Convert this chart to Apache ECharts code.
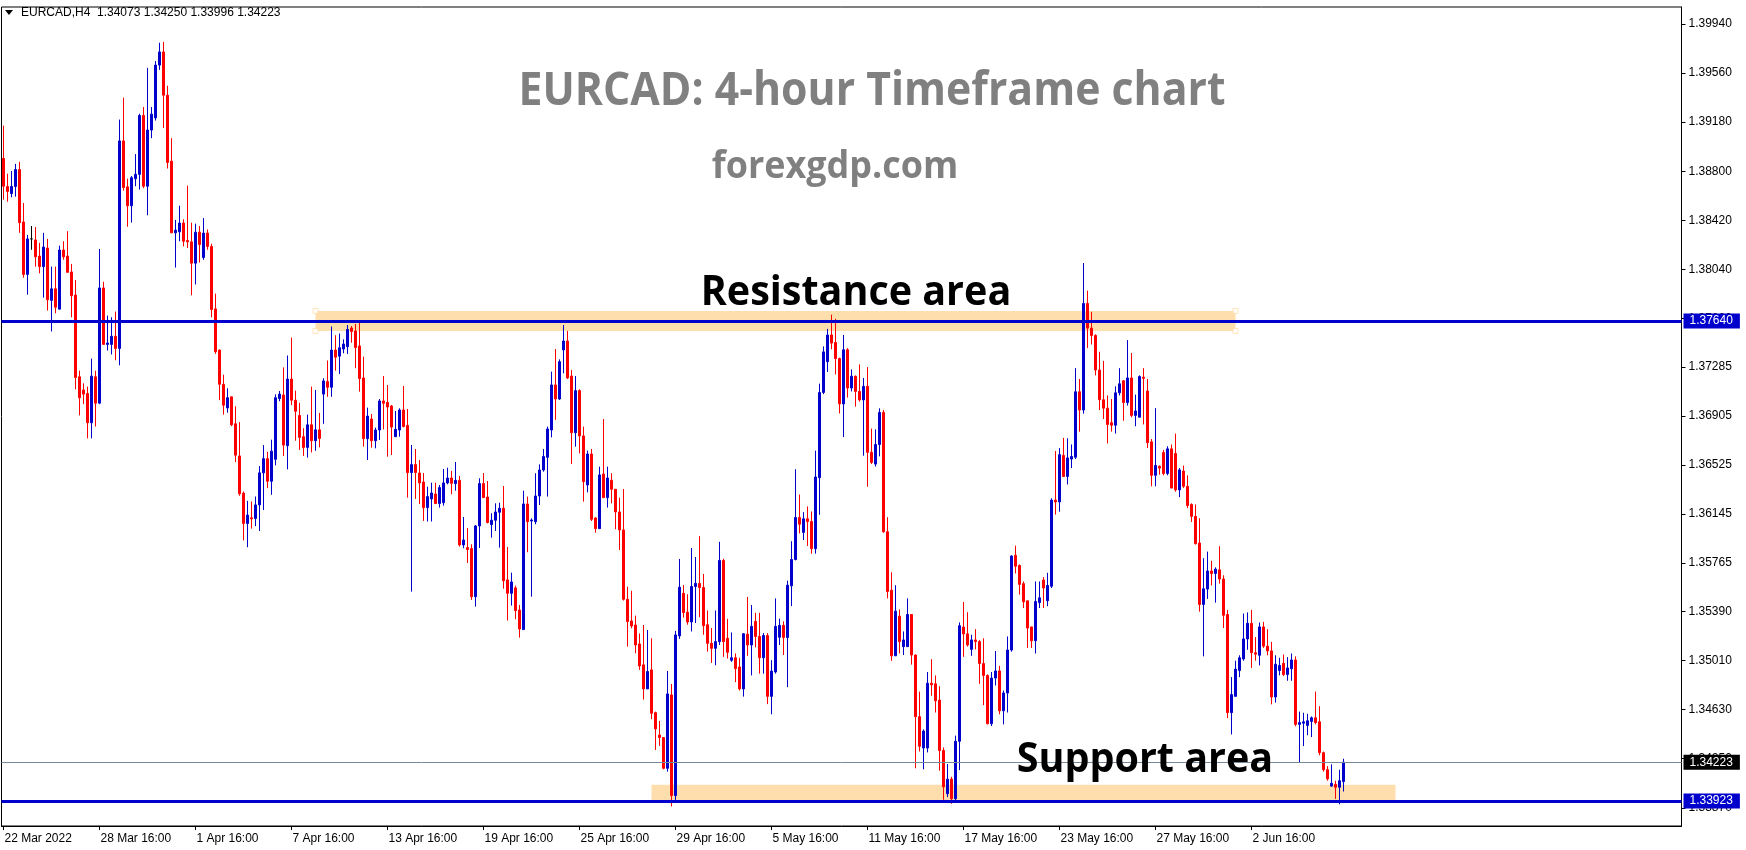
<!DOCTYPE html>
<html><head><meta charset="utf-8">
<script src="https://cdn.jsdelivr.net/npm/echarts@6/dist/echarts.min.js"></script>
<style>html,body{margin:0;padding:0;background:#fff}#c{width:1746px;height:850px}</style>
</head><body><div id="c"></div>
<script>
// [open, close, low, high] for each H4 candle
const candles = [
[1.38899,1.38684,1.38580,1.39153],[1.38682,1.38643,1.38564,1.38781],[1.38627,1.38682,1.38598,1.38802],[1.38682,1.38813,1.38603,1.38857],
[1.38813,1.38402,1.38323,1.38873],[1.38407,1.38001,1.37975,1.38554],[1.38001,1.38276,1.37844,1.38307],[1.38276,1.38276,1.38192,1.38376],
[1.38268,1.38137,1.38061,1.38368],[1.38143,1.38061,1.38009,1.38245],[1.38061,1.38213,1.37821,1.38323],[1.38205,1.37805,1.37721,1.38276],
[1.37800,1.37889,1.37559,1.38061],[1.37889,1.37747,1.37700,1.38061],[1.37732,1.38190,1.37732,1.38224],[1.38190,1.38137,1.38114,1.38258],
[1.38143,1.38017,1.38017,1.38336],[1.38020,1.37836,1.37669,1.38082],[1.37841,1.37203,1.37111,1.37957],[1.37208,1.37046,1.36909,1.37255],
[1.37106,1.37074,1.36996,1.37158],[1.37079,1.36852,1.36731,1.37132],[1.36852,1.37213,1.36731,1.37349],[1.37208,1.37004,1.36823,1.37255],
[1.37004,1.37896,1.36996,1.38198],[1.37896,1.37459,1.37459,1.37944],[1.37459,1.37470,1.37412,1.37682],[1.37459,1.37522,1.37381,1.37669],
[1.37522,1.37428,1.37336,1.37713],[1.37428,1.39035,1.37297,1.39200],[1.39035,1.38674,1.38650,1.39370],[1.38679,1.38533,1.38370,1.38742],
[1.38533,1.38750,1.38402,1.38763],[1.38742,1.38776,1.38684,1.38933],[1.38776,1.39232,1.38658,1.39245],[1.39232,1.38684,1.38669,1.39297],
[1.38684,1.39119,1.38459,1.39601],[1.39119,1.39242,1.39056,1.39297],[1.39213,1.39622,1.39192,1.39653],[1.39622,1.39724,1.39585,1.39795],
[1.39724,1.39389,1.39135,1.39802],[1.39389,1.38868,1.38821,1.39462],[1.38878,1.38323,1.38323,1.39056],[1.38323,1.38344,1.38054,1.38423],
[1.38331,1.38399,1.38258,1.38533],[1.38399,1.38258,1.38218,1.38428],[1.38263,1.38253,1.38205,1.38689],[1.38253,1.38088,1.37839,1.38402],
[1.38088,1.38328,1.37923,1.38394],[1.38328,1.38232,1.38093,1.38376],[1.38132,1.38321,1.38114,1.38438],[1.38321,1.38218,1.38192,1.38349],
[1.38218,1.37729,1.37669,1.38239],[1.37734,1.37402,1.37386,1.37852],[1.37415,1.37150,1.37027,1.37420],[1.37150,1.36988,1.36915,1.37224],
[1.36967,1.37046,1.36930,1.37119],[1.37053,1.36836,1.36826,1.37053],[1.36844,1.36601,1.36548,1.36980],[1.36595,1.36302,1.36287,1.36857],
[1.36307,1.36072,1.35941,1.36320],[1.36072,1.36137,1.35888,1.36247],[1.36116,1.36108,1.36032,1.36242],[1.36111,1.36216,1.36051,1.36281],
[1.36216,1.36464,1.36014,1.36517],[1.36464,1.36574,1.36176,1.36679],[1.36574,1.36399,1.36346,1.36627],[1.36399,1.36632,1.36294,1.36721],
[1.36569,1.37046,1.36522,1.37072],[1.37040,1.37074,1.37019,1.37098],[1.37067,1.36679,1.36595,1.37281],[1.36674,1.37190,1.36491,1.37373],
[1.37190,1.37027,1.36988,1.37512],[1.37027,1.36941,1.36713,1.37101],[1.36909,1.36739,1.36642,1.37006],[1.36744,1.36661,1.36595,1.36810],
[1.36661,1.36836,1.36582,1.36915],[1.36836,1.36713,1.36622,1.37132],[1.36713,1.36797,1.36635,1.37106],[1.36797,1.36731,1.36661,1.36928],
[1.37074,1.37176,1.36844,1.37197],[1.37171,1.37127,1.37053,1.37334],[1.37127,1.37415,1.37053,1.37598],[1.37415,1.37360,1.37255,1.37530],
[1.37368,1.37433,1.37229,1.37543],[1.37423,1.37462,1.37390,1.37498],[1.37441,1.37575,1.37385,1.37609],[1.37586,1.37558,1.37472,1.37601],
[1.37563,1.37434,1.37274,1.37617],[1.37447,1.37194,1.37093,1.37635],[1.37199,1.36729,1.36667,1.37364],[1.36729,1.36904,1.36564,1.36969],
[1.36881,1.36713,1.36659,1.36920],[1.36713,1.36796,1.36654,1.36814],[1.36796,1.37021,1.36719,1.37036],[1.37021,1.37003,1.36801,1.37214],
[1.37010,1.36974,1.36589,1.37145],[1.36982,1.36819,1.36602,1.36990],[1.36744,1.36801,1.36744,1.36943],[1.36796,1.36951,1.36744,1.36964],
[1.36951,1.36822,1.36817,1.37137],[1.36832,1.36466,1.36272,1.36959],[1.36466,1.36528,1.35544,1.36680],[1.36528,1.36466,1.36262,1.36649],
[1.36463,1.36386,1.36223,1.36564],[1.36393,1.36195,1.36092,1.36463],[1.36195,1.36280,1.36087,1.36357],[1.36262,1.36308,1.36087,1.36388],
[1.36300,1.36226,1.36226,1.36388],[1.36226,1.36350,1.36195,1.36370],[1.36233,1.36386,1.36210,1.36494],[1.36386,1.36424,1.36375,1.36504],
[1.36424,1.36383,1.36298,1.36479],[1.36381,1.36406,1.36326,1.36548],[1.36406,1.35906,1.35893,1.36440],[1.35906,1.35944,1.35880,1.36122],
[1.35885,1.35870,1.35766,1.36037],[1.35877,1.35505,1.35480,1.35911],[1.35505,1.36053,1.35428,1.36060],[1.36053,1.36381,1.35882,1.36422],
[1.36381,1.36272,1.36272,1.36463],[1.36277,1.36079,1.36073,1.36401],[1.36063,1.36097,1.35962,1.36151],[1.36097,1.36161,1.36014,1.36228],
[1.36159,1.36190,1.35885,1.36233],[1.36190,1.35629,1.35567,1.36362],[1.35635,1.35531,1.35320,1.35890],[1.35531,1.35619,1.35436,1.35691],
[1.35573,1.35397,1.35330,1.35591],[1.35402,1.35255,1.35188,1.35441],[1.35250,1.36223,1.35250,1.36326],[1.36223,1.36086,1.35849,1.36280],
[1.36091,1.36099,1.35505,1.36112],[1.36086,1.36285,1.36066,1.36461],[1.36285,1.36486,1.36215,1.36530],[1.36486,1.36590,1.36473,1.36649],
[1.36584,1.36804,1.36280,1.36822],[1.36796,1.37145,1.36739,1.37248],[1.37145,1.37036,1.36874,1.37423],[1.37036,1.37325,1.37028,1.37343],
[1.37416,1.37485,1.37235,1.37609],[1.37485,1.37199,1.37191,1.37563],[1.37214,1.36775,1.36533,1.37261],[1.36775,1.37101,1.36667,1.37214],
[1.37101,1.36750,1.36615,1.37111],[1.36750,1.36396,1.36241,1.36822],[1.36370,1.36610,1.36313,1.36636],[1.36610,1.36104,1.36091,1.36649],
[1.36115,1.36032,1.36001,1.36120],[1.36032,1.36448,1.36032,1.36512],[1.36455,1.36272,1.36272,1.36881],[1.36272,1.36424,1.36195,1.36512],
[1.36406,1.36337,1.36228,1.36461],[1.36337,1.36161,1.36027,1.36339],[1.36161,1.36022,1.35867,1.36272],[1.36022,1.35485,1.35475,1.36339],
[1.35485,1.35312,1.35118,1.35583],[1.35317,1.35278,1.35260,1.35550],[1.35286,1.35131,1.35067,1.35358],[1.35139,1.34969,1.34938,1.35220],
[1.34977,1.34791,1.34708,1.35286],[1.34791,1.34925,1.34791,1.35247],[1.34938,1.34602,1.34556,1.35183],[1.34607,1.34481,1.34318,1.34615],
[1.34434,1.34414,1.34349,1.34543],[1.34414,1.34176,1.34168,1.34416],[1.34176,1.34752,1.34150,1.34930],[1.34744,1.33965,1.33880,1.34829],
[1.33965,1.35209,1.33931,1.35240],[1.35201,1.35578,1.35178,1.35797],[1.35531,1.35382,1.35343,1.35596],[1.35385,1.35309,1.35288,1.35524],
[1.35309,1.35584,1.35236,1.35882],[1.35584,1.35608,1.35301,1.35812],[1.35608,1.35576,1.35346,1.35974],[1.35576,1.35280,1.35210,1.35681],
[1.35288,1.35144,1.35079,1.35398],[1.35144,1.35105,1.34992,1.35262],[1.35105,1.35157,1.34974,1.35398],[1.35157,1.35786,1.35131,1.35930],
[1.35786,1.35157,1.35039,1.35799],[1.35183,1.35074,1.35026,1.35333],[1.35013,1.35032,1.35000,1.35228],[1.35032,1.34948,1.34843,1.35066],
[1.34961,1.34791,1.34778,1.35032],[1.34791,1.35218,1.34731,1.35223],[1.35215,1.35131,1.35047,1.35503],[1.35131,1.35275,1.34895,1.35440],
[1.35314,1.35197,1.35113,1.35380],[1.35197,1.35032,1.34909,1.35380],[1.35032,1.35204,1.34909,1.35223],[1.35204,1.34733,1.34673,1.35223],
[1.34733,1.34929,1.34594,1.35013],[1.34922,1.35275,1.34909,1.35492],[1.35191,1.35283,1.35131,1.35335],[1.35283,1.35189,1.35053,1.35314],
[1.35189,1.35594,1.34804,1.35629],[1.35589,1.35793,1.35432,1.35935],[1.35793,1.36118,1.35786,1.36492],[1.36118,1.36066,1.35995,1.36296],
[1.36003,1.36108,1.35943,1.36160],[1.36108,1.36087,1.35898,1.36204],[1.36087,1.35877,1.35838,1.36165],[1.35877,1.36432,1.35838,1.36636],
[1.36427,1.37087,1.36139,1.37155],[1.37087,1.37401,1.37074,1.37443],[1.37325,1.37532,1.37246,1.37579],[1.37532,1.37469,1.37422,1.37689],
[1.37474,1.37349,1.37226,1.37657],[1.37349,1.36998,1.36924,1.37356],[1.36998,1.37417,1.36741,1.37532],[1.37417,1.37121,1.37047,1.37430],
[1.37121,1.37212,1.37095,1.37265],[1.37212,1.37095,1.36977,1.37218],[1.37095,1.37029,1.37016,1.37304],[1.37029,1.37134,1.36597,1.37199],
[1.37134,1.36623,1.36356,1.37283],[1.36623,1.36545,1.36532,1.36807],[1.36532,1.36684,1.36513,1.36801],[1.36684,1.36932,1.36592,1.36964],
[1.36932,1.36008,1.36000,1.36951],[1.36008,1.35545,1.35492,1.36121],[1.35555,1.35047,1.35008,1.35694],[1.35047,1.35393,1.35047,1.35594],
[1.35354,1.35157,1.35066,1.35406],[1.35118,1.35170,1.35053,1.35236],[1.35118,1.35367,1.35118,1.35492],[1.35367,1.35053,1.34979,1.35367],
[1.35053,1.34576,1.34176,1.35058],[1.34576,1.34346,1.34306,1.34770],[1.34333,1.34464,1.34168,1.34477],[1.34333,1.34835,1.34299,1.34922],
[1.34835,1.34822,1.34738,1.35021],[1.34830,1.34699,1.34608,1.34895],[1.34704,1.34314,1.34157,1.34812],[1.34314,1.34032,1.33932,1.34338],
[1.33979,1.34092,1.33953,1.34209],[1.34092,1.33940,1.33901,1.34110],[1.33940,1.34385,1.33927,1.34429],[1.34385,1.35280,1.34162,1.35306],
[1.35270,1.35217,1.35039,1.35464],[1.35217,1.35131,1.35118,1.35385],[1.35097,1.35170,1.35047,1.35210],[1.35170,1.35157,1.35097,1.35254],
[1.35157,1.34987,1.34830,1.35170],[1.34987,1.34895,1.34665,1.35183],[1.34895,1.34521,1.34516,1.34903],[1.34521,1.34875,1.34503,1.34922],
[1.34875,1.34930,1.34817,1.35084],[1.34930,1.34621,1.34594,1.34969],[1.34621,1.34759,1.34516,1.34778],[1.34759,1.35092,1.34608,1.35197],
[1.35092,1.35820,1.35079,1.35825],[1.35825,1.35741,1.35685,1.35900],[1.35747,1.35600,1.35521,1.35755],[1.35606,1.35465,1.35417,1.35623],
[1.35473,1.35262,1.35108,1.35473],[1.35271,1.35164,1.35108,1.35271],[1.35164,1.35468,1.35065,1.35623],[1.35459,1.35496,1.35417,1.35623],
[1.35634,1.35572,1.35417,1.35657],[1.35474,1.35592,1.35431,1.35690],[1.35586,1.36253,1.35572,1.36267],[1.36253,1.36239,1.36141,1.36633],
[1.36239,1.36605,1.36163,1.36656],[1.36599,1.36436,1.36431,1.36735],[1.36436,1.36580,1.36374,1.36732],[1.36571,1.36591,1.36501,1.36684],
[1.36585,1.37092,1.36571,1.37275],[1.37092,1.36951,1.36783,1.37191],[1.36951,1.37776,1.36923,1.38089],[1.37776,1.37585,1.37430,1.37875],
[1.37585,1.37528,1.37458,1.37711],[1.37528,1.37261,1.37219,1.37537],[1.37261,1.37030,1.36951,1.37402],[1.37030,1.36965,1.36881,1.37331],
[1.36965,1.36839,1.36692,1.37064],[1.36853,1.36833,1.36783,1.37036],[1.36833,1.37084,1.36768,1.37134],[1.37084,1.37154,1.37064,1.37275],
[1.37177,1.37008,1.36867,1.37182],[1.37008,1.37199,1.36985,1.37492],[1.37199,1.36909,1.36895,1.37393],[1.36909,1.36943,1.36825,1.37070],
[1.36895,1.37210,1.36895,1.37219],[1.37205,1.37196,1.36839,1.37275],[1.37098,1.36698,1.36656,1.37191],[1.36704,1.36445,1.36360,1.36726],
[1.36445,1.36521,1.36360,1.36965],[1.36515,1.36501,1.36450,1.36521],[1.36622,1.36459,1.36445,1.36642],[1.36459,1.36650,1.36445,1.36670],
[1.36650,1.36346,1.36346,1.36684],[1.36614,1.36332,1.36318,1.36768],[1.36332,1.36487,1.36276,1.36501],[1.36478,1.36360,1.36346,1.36521],
[1.36360,1.36211,1.36191,1.36445],[1.36219,1.36127,1.36084,1.36228],[1.36127,1.35915,1.35910,1.36219],[1.35921,1.35445,1.35389,1.36113],
[1.35445,1.35566,1.35043,1.35803],[1.35564,1.35704,1.35488,1.35854],[1.35704,1.35685,1.35592,1.35783],[1.35685,1.35718,1.35459,1.35732],
[1.35713,1.35642,1.35606,1.35896],[1.35642,1.35361,1.35262,1.35671],[1.35367,1.34607,1.34564,1.35403],[1.34607,1.34747,1.34438,1.34882],
[1.34733,1.34944,1.34733,1.35009],[1.34933,1.35032,1.34882,1.35051],[1.35023,1.35178,1.35009,1.35375],[1.35178,1.35299,1.35094,1.35383],
[1.35299,1.35071,1.34953,1.35403],[1.35071,1.35060,1.35009,1.35192],[1.35051,1.35271,1.34973,1.35305],[1.35271,1.35122,1.35108,1.35310],
[1.35122,1.35085,1.35051,1.35254],[1.35085,1.34728,1.34671,1.35155],[1.34728,1.34981,1.34685,1.35051],[1.34933,1.34973,1.34896,1.35032],
[1.34989,1.34902,1.34891,1.35057],[1.34902,1.34953,1.34854,1.35037],[1.34947,1.35015,1.34854,1.35065],[1.35015,1.34516,1.34502,1.35043],
[1.34516,1.34530,1.34221,1.34615],[1.34525,1.34536,1.34348,1.34606],[1.34508,1.34544,1.34432,1.34598],[1.34539,1.34567,1.34418,1.34578],
[1.34567,1.34530,1.34516,1.34770],[1.34536,1.34297,1.34277,1.34657],[1.34297,1.34165,1.34150,1.34305],[1.34165,1.34094,1.34080,1.34193],
[1.34038,1.34060,1.34032,1.34207],[1.34052,1.34029,1.33939,1.34080],[1.34029,1.34080,1.33897,1.34165],[1.34073,1.34223,1.33996,1.34250]
];
// x-axis labels, one every 24 bars (4 trading days of H4 bars)
const tickLabels = ["22 Mar 2022","28 Mar 16:00","1 Apr 16:00","7 Apr 16:00","13 Apr 16:00","19 Apr 16:00","25 Apr 16:00",
  "29 Apr 16:00","5 May 16:00","11 May 16:00","17 May 16:00","23 May 16:00","27 May 16:00","2 Jun 16:00"];
const labelEvery = 24;
const totalSlots = 420;              // bar slots visible on the axis (chart shifted left)
// price scale labels on the right
const yTicks = [1.39940,1.39560,1.39180,1.38800,1.38420,1.38040,1.37660,1.37285,1.36905,1.36525,1.36145,1.35765,1.35390,1.35010,1.34630,1.34250,1.33870];
const yRange = [1.33729, 1.40072];
// horizontal lines
const resistanceLevel = 1.37640, supportLevel = 1.33923, lastPrice = 1.34223;
// zones: [fromBar, toBar, topPrice, bottomPrice]
const resistanceZone = [78, 308, 1.37718, 1.37563];
const supportZone = [162, 348, 1.34048, 1.33923];
const header = "EURCAD,H4  1.34073 1.34250 1.33996 1.34223";

const slots = Array.from({length: totalSlots}, (_, i) => String(i));
const showIdx = (i) => i % labelEvery === 0 && (i / labelEvery) < tickLabels.length;
const AX_FONT = 'Liberation Sans';
const BLUE = '#0000CD';

const chart = echarts.init(document.getElementById('c'));
const lvlLabel = (txt, bg) => ({show: true, position: 'end', distance: 2, formatter: txt, color: '#fff', backgroundColor: bg,
  padding: [2, 7, 1, 6], fontFamily: AX_FONT, fontSize: 12});
const handleData = [[resistanceZone[0], resistanceZone[2]], [resistanceZone[0], resistanceZone[3]],
                    [resistanceZone[1], resistanceZone[2]], [resistanceZone[1], resistanceZone[3]]];
chart.setOption({
  animation: false,
  backgroundColor: '#fff',
  grid: {left: 1.5, right: 64.5, top: 7, bottom: 24, show: true, borderColor: '#000', borderWidth: 1},
  xAxis: {
    type: 'category', data: slots, boundaryGap: true,
    axisLine: {show: true, lineStyle: {color: '#000', width: 1}},
    axisTick: {show: true, alignWithLabel: true, interval: (i) => showIdx(i), length: 4, lineStyle: {color: '#000'}},
    axisLabel: {interval: (i) => showIdx(i), formatter: (v, i) => tickLabels[Math.round(i / labelEvery)] || '',
      align: 'left', padding: [0, 0, 0, 1], margin: 7, color: '#000', fontFamily: AX_FONT, fontSize: 12},
    splitLine: {show: false}
  },
  yAxis: {
    type: 'value', position: 'right', min: yRange[0], max: yRange[1],
    axisLine: {show: true, lineStyle: {color: '#000'}},
    axisTick: {show: true, customValues: yTicks, length: 4, lineStyle: {color: '#000'}},
    axisLabel: {customValues: yTicks, formatter: (v) => v.toFixed(5), margin: 7, color: '#000', fontFamily: AX_FONT, fontSize: 12},
    splitLine: {show: false}
  },
  series: [{
    type: 'candlestick', data: candles, barWidth: 2, z: 3,
    itemStyle: {color: BLUE, color0: '#FF0000', borderColor: BLUE, borderColor0: '#FF0000', borderWidth: 1, borderColorDoji: '#000'},
    markArea: {silent: true, itemStyle: {color: '#FFDEAD', opacity: 1},
      data: [
        [{xAxis: resistanceZone[0], yAxis: resistanceZone[2]}, {xAxis: resistanceZone[1], yAxis: resistanceZone[3]}],
        [{xAxis: supportZone[0], yAxis: supportZone[2]}, {xAxis: supportZone[1], yAxis: supportZone[3]}]
      ]}
  }, {
    type: 'scatter', symbol: 'rect', symbolSize: 5, z: 6, silent: true,
    itemStyle: {color: '#fff', borderColor: '#FFDEAD', borderWidth: 1},
    data: handleData,
    markLine: {silent: true, symbol: ['none', 'none'], animation: false, precision: 5,
      data: [
        {yAxis: lastPrice, lineStyle: {color: '#778899', width: 1, type: 'solid'}, label: lvlLabel(lastPrice.toFixed(5), '#000')},
        {yAxis: resistanceLevel, lineStyle: {color: BLUE, width: 3, type: 'solid'}, label: lvlLabel(resistanceLevel.toFixed(5), BLUE)},
        {yAxis: supportLevel, lineStyle: {color: BLUE, width: 3, type: 'solid'}, label: lvlLabel(supportLevel.toFixed(5), BLUE)}
      ]}
  }],
  graphic: [
    {type: 'polygon', shape: {points: [[5, 10], [13, 10], [9, 15]]}, style: {fill: '#000'}},
    {type: 'text', x: 21, y: 13, style: {text: header, font: '12px "Liberation Sans"', fill: '#000', textVerticalAlign: 'middle'}},
    {type: 'text', x: 872, y: 92, scaleX: 0.93, z: 10, style: {text: 'EURCAD: 4-hour Timeframe chart', font: 'bold 46px "Open Sans"', fill: '#808080', textAlign: 'center', textVerticalAlign: 'middle'}},
    {type: 'text', x: 835, y: 167, scaleX: 0.945, z: 10, style: {text: 'forexgdp.com', font: 'bold 38px "Open Sans"', fill: '#808080', textAlign: 'center', textVerticalAlign: 'middle'}},
    {type: 'text', x: 856, y: 293, scaleX: 0.94, z: 10, style: {text: 'Resistance area', font: 'bold 42px "Open Sans"', fill: '#000', textAlign: 'center', textVerticalAlign: 'middle'}},
    {type: 'text', x: 1145, y: 760, scaleX: 0.94, z: 10, style: {text: 'Support area', font: 'bold 42px "Open Sans"', fill: '#000', textAlign: 'center', textVerticalAlign: 'middle'}}
  ]
});
</script></body></html>
